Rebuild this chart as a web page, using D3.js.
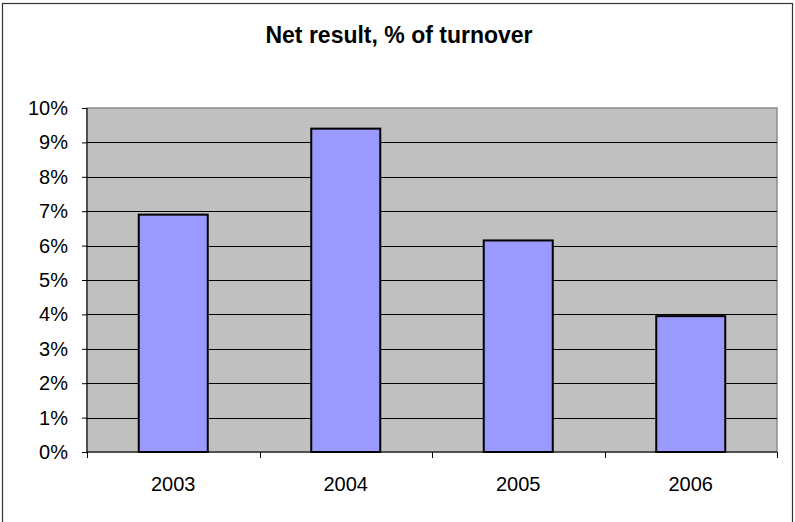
<!DOCTYPE html>
<html lang="en">
<head>
    <meta charset="UTF-8">
    <title>Net result, % of turnover</title>
    <script src="https://d3js.org/d3.v7.min.js"></script>
    <style>
        body { margin: 0; background: #fff; }
        text { font-family: "Liberation Sans", Arial, sans-serif; fill: #000; }
    </style>
</head>
<body>
    <div id="chart"></div>
    <script>
        // Chart data
        const years = ["2003", "2004", "2005", "2006"];
        const netResult = [6.9, 9.4, 6.15, 3.95];
        const yTicks = [0, 1, 2, 3, 4, 5, 6, 7, 8, 9, 10];

        const W = 795, H = 522;
        const plot = { left: 87, right: 777, top: 108, bottom: 452 };

        const svg = d3.select("#chart")
            .append("svg")
            .attr("width", W)
            .attr("height", H);

        // outer frame
        svg.append("rect")
            .attr("x", 2.5).attr("y", 3.5)
            .attr("width", 790).attr("height", 530)
            .attr("fill", "#fff")
            .attr("stroke", "#333")
            .attr("stroke-width", 1.2);

        svg.append("text")
            .attr("x", 399).attr("y", 43)
            .attr("text-anchor", "middle")
            .style("font-size", "23px")
            .style("font-weight", "bold")
            .text("Net result, % of turnover");

        const x = d3.scaleBand()
            .domain(years)
            .range([plot.left, plot.right])
            .paddingInner(0.6)
            .paddingOuter(0.3);

        const y = d3.scaleLinear()
            .domain([0, 10])
            .range([plot.bottom, plot.top]);

        // plot area
        svg.append("rect")
            .attr("x", plot.left).attr("y", plot.top)
            .attr("width", plot.right - plot.left)
            .attr("height", plot.bottom - plot.top)
            .attr("fill", "#c0c0c0")
            .attr("stroke", "#8c8c8c")
            .attr("stroke-width", 1.5);

        // gridlines
        svg.append("g")
            .selectAll("line")
            .data(yTicks.filter(d => d > 0 && d < 10))
            .enter()
            .append("line")
            .attr("x1", plot.left).attr("x2", plot.right)
            .attr("y1", d => Math.round(y(d)) + 0.5)
            .attr("y2", d => Math.round(y(d)) + 0.5)
            .attr("stroke", "#000")
            .attr("stroke-width", 1);

        // bars
        svg.append("g")
            .selectAll("rect")
            .data(years.map((d, i) => [d, netResult[i]]))
            .enter()
            .append("rect")
            .attr("x", d => x(d[0]))
            .attr("y", d => y(d[1]))
            .attr("width", x.bandwidth())
            .attr("height", d => y(0) - y(d[1]))
            .attr("fill", "#9999ff")
            .attr("stroke", "#000")
            .attr("stroke-width", 2);

        // y axis
        const yAxis = svg.append("g")
            .attr("transform", `translate(${plot.left},0)`)
            .call(d3.axisLeft(y)
                .tickValues(yTicks)
                .tickFormat(d => d + "%")
                .tickSize(5)
                .tickPadding(14));
        yAxis.select(".domain").attr("stroke", "#000").attr("d", `M0,${plot.top}V${plot.bottom}`);
        yAxis.selectAll("line").attr("stroke", "#000");
        yAxis.selectAll("text").style("font-size", "20px").attr("font-family", null);

        // x axis: labels centred, ticks between categories
        const xAxis = svg.append("g")
            .attr("transform", `translate(0,${plot.bottom})`)
            .call(d3.axisBottom(x).tickSize(0).tickPadding(25));
        xAxis.select(".domain").attr("stroke", "#000").attr("d", `M${plot.left},0H${plot.right}`);
        xAxis.selectAll("text").style("font-size", "20px").attr("font-family", null);

        const gap = (x.step() - x.bandwidth()) / 2;
        const bounds = years.map(d => x(d) - gap).concat([plot.right]);
        xAxis.selectAll(".sep")
            .data(bounds)
            .enter()
            .append("line")
            .attr("class", "sep")
            .attr("x1", d => Math.round(d) + 0.5).attr("x2", d => Math.round(d) + 0.5)
            .attr("y1", 0).attr("y2", 6)
            .attr("stroke", "#000");
    </script>
</body>
</html>
